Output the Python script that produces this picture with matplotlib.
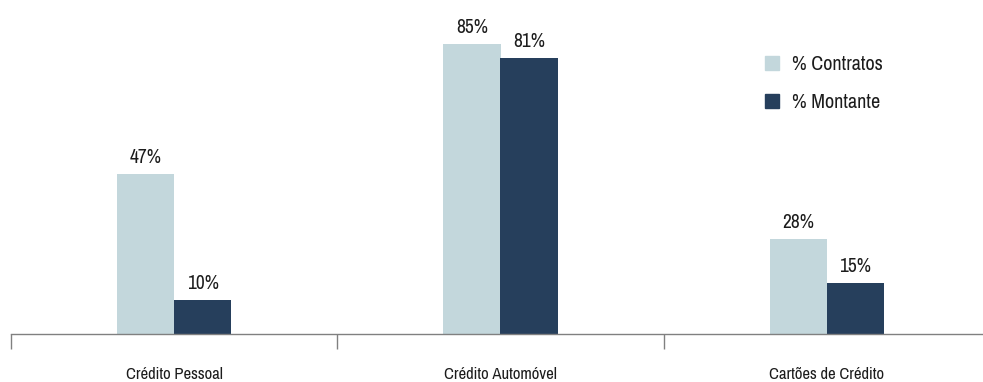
import matplotlib
matplotlib.use("Agg")
import matplotlib.pyplot as plt
from matplotlib.patches import Patch
import numpy as np

categories = ["Crédito Pessoal", "Crédito Automóvel", "Cartões de Crédito"]
contratos = [47, 85, 28]
montante = [10, 81, 15]
series_names = ["% Contratos", "% Montante"]

light = "#c3d7dc"
dark = "#263f5c"
text_c = "#1c1c1c"

plt.rcParams["font.family"] = ["Archivo Narrow", "PT Sans Narrow", "DejaVu Sans"]

fig = plt.figure(figsize=(9.83, 3.82), dpi=100)
ax = fig.add_axes([11 / 983, 48 / 382, 979 / 983, 334 / 382])

x = np.arange(len(categories))
w = 0.175
b1 = ax.bar(x - w / 2, contratos, w, color=light, label=series_names[0])
b2 = ax.bar(x + w / 2, montante, w, color=dark, label=series_names[1])

for bars, vals in ((b1, contratos), (b2, montante)):
    for r, v in zip(bars, vals):
        ax.annotate(f"{v}%", (r.get_x() + r.get_width() / 2, v),
                    xytext=(0, 5), textcoords="offset points",
                    ha="center", va="bottom", fontsize=14, color=text_c)

ax.set_xlim(-0.5, 2.5)
ax.set_ylim(0, 98)
ax.set_xticks(x)
ax.set_xticklabels(categories, fontsize=12, color=text_c)
ax.tick_params(axis="x", length=0, pad=24)
# separator ticks between groups
ax.set_xticks(np.arange(-0.5, 3.0, 1.0), minor=True)
ax.tick_params(axis="x", which="minor", length=11, width=1, color="#808080")
ax.set_yticks([])
for s in ("top", "right", "left"):
    ax.spines[s].set_visible(False)
ax.spines["bottom"].set_color("#808080")
ax.spines["bottom"].set_linewidth(1)

ax.legend(handles=[Patch(color=light), Patch(color=dark)], labels=series_names,
          loc="upper left", bbox_to_anchor=(0.752, 0.89), frameon=False,
          fontsize=14.5, labelcolor=text_c, handlelength=0.7, handleheight=0.7,
          labelspacing=0.95, handletextpad=0.6)

fig.savefig("out.png", dpi=100)
